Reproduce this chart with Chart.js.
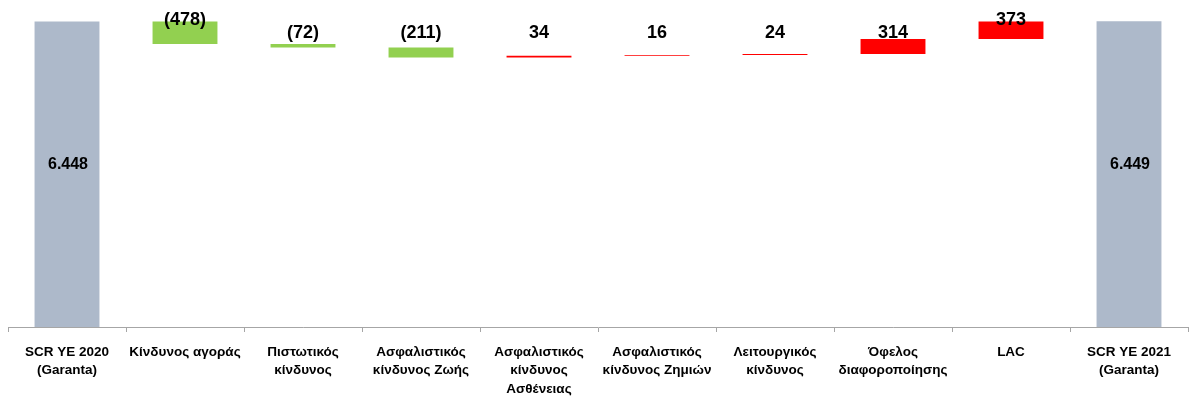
<!DOCTYPE html>
<html>
<head>
<meta charset="utf-8">
<script src="https://cdn.jsdelivr.net/npm/chart.js@4/dist/chart.umd.min.js"></script>
<style>
  html, body { margin: 0; padding: 0; background: #ffffff; }
  #wrap { width: 1193px; height: 398px; position: relative; }
</style>
</head>
<body>
<div id="wrap"><canvas id="c"></canvas></div>
<script>
// SCR bridge YE 2020 -> YE 2021 (Garanta), amounts in thousands
const categories = [
  ["SCR YE 2020", "(Garanta)"],
  ["Κίνδυνος αγοράς"],
  ["Πιστωτικός", "κίνδυνος"],
  ["Ασφαλιστικός", "κίνδυνος Ζωής"],
  ["Ασφαλιστικός", "κίνδυνος", "Ασθένειας"],
  ["Ασφαλιστικός", "κίνδυνος Ζημιών"],
  ["Λειτουργικός", "κίνδυνος"],
  ["Όφελος", "διαφοροποίησης"],
  ["LAC"],
  ["SCR YE 2021", "(Garanta)"]
];
const startValue = 6448;
const endValue = 6449;
const changes = [-478, -72, -211, 34, 16, 24, 314, 373];

const COLOR_TOTAL = '#ADB9CA';
const COLOR_DECREASE = '#92D050';
const COLOR_INCREASE = '#FF0000';

// floating [from, to] ranges for the waterfall
const ranges = [[0, startValue]];
const labelValues = [startValue];
const isTotal = [true];
let running = startValue;
for (const ch of changes) {
  ranges.push([running, running + ch]);
  labelValues.push(ch);
  isTotal.push(false);
  running += ch;
}
ranges.push([0, endValue]);
labelValues.push(endValue);
isTotal.push(true);

const barColors = labelValues.map((v, i) =>
  isTotal[i] ? COLOR_TOTAL : (v < 0 ? COLOR_DECREASE : COLOR_INCREASE));

function formatTotal(v) {
  return String(v).replace(/\B(?=(\d{3})+(?!\d))/g, '.');
}
function formatChange(v) {
  return v < 0 ? '(' + Math.abs(v) + ')' : String(v);
}

const valueLabels = {
  id: 'valueLabels',
  afterDatasetsDraw(chart) {
    const ctx = chart.ctx;
    const meta = chart.getDatasetMeta(0);
    ctx.save();
    ctx.fillStyle = '#000000';
    ctx.textAlign = 'center';
    ctx.textBaseline = 'middle';
    meta.data.forEach((bar, i) => {
      const top = Math.min(bar.y, bar.base);
      const bottom = Math.max(bar.y, bar.base);
      if (isTotal[i]) {
        ctx.font = 'bold 16px "Liberation Sans", Arial, sans-serif';
        ctx.fillText(formatTotal(labelValues[i]), bar.x + 1, (top + bottom) / 2 - 10);
      } else {
        ctx.font = 'bold 18px "Liberation Sans", Arial, sans-serif';
        const y = Math.min(chart.chartArea.top + 33, top - 1);
        ctx.fillText(formatChange(labelValues[i]), bar.x, y);
      }
    });
    ctx.restore();
  }
};

new Chart(document.getElementById('c'), {
  type: 'bar',
  data: {
    labels: categories,
    datasets: [{
      data: ranges,
      backgroundColor: barColors,
      borderWidth: 0,
      borderSkipped: false,
      barPercentage: 0.55,
      categoryPercentage: 1.0
    }]
  },
  options: {
    responsive: true,
    maintainAspectRatio: false,
    animation: false,
    layout: { padding: { left: 8, right: 5, top: 0, bottom: 0 } },
    plugins: {
      legend: { display: false },
      tooltip: { enabled: false }
    },
    scales: {
      x: {
        grid: {
          display: true,
          offset: true,
          drawOnChartArea: false,
          drawTicks: true,
          tickLength: 5,
          color: '#A6A6A6',
          lineWidth: 1
        },
        border: { display: true, color: '#A6A6A6', width: 1 },
        ticks: {
          color: '#000000',
          font: { family: '"Liberation Sans", Arial, sans-serif', size: 13.5, weight: 'bold', lineHeight: 1.37 },
          padding: 11,
          maxRotation: 0,
          minRotation: 0,
          autoSkip: false
        },
        afterFit(scale) { scale.height = 71; }
      },
      y: {
        display: false,
        min: 0,
        max: 6900
      }
    }
  },
  plugins: [valueLabels]
});
</script>
</body>
</html>
